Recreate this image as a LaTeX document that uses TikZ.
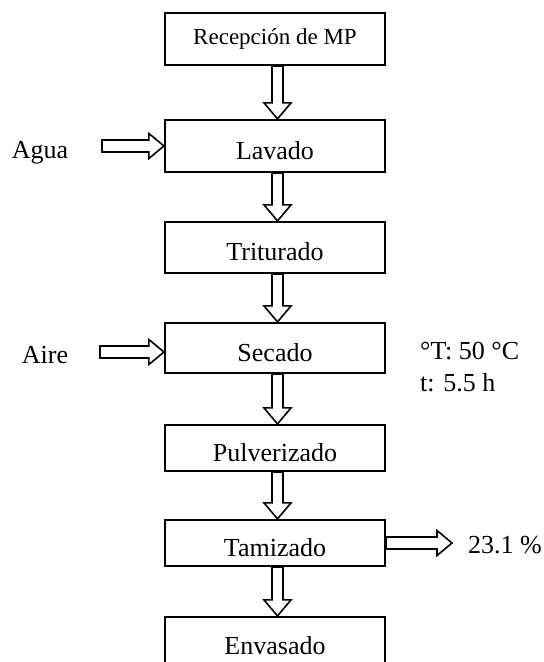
\documentclass[tikz,border=0pt]{standalone}
\usepackage{fontspec}
\setmainfont{Liberation Serif}
\usetikzlibrary{calc}
\tikzset{
  procbox/.style={draw, line width=2.2bp, minimum width=220bp, inner sep=0pt, text height=26bp, text depth=0bp, font=\fontsize{26bp}{30bp}\selectfont},
  lbl/.style={inner sep=0pt, font=\fontsize{26bp}{30bp}\selectfont},
  blk/.style={draw, line width=1.6bp, fill=white, line join=miter}
}
\newcommand\vblock[2]{\draw[blk] let \p1=($(#1.south)+(2.5,0)$), \p2=($(#2.north)+(2.5,0)$) in
  (\x1-5.5bp,\y1) -- (\x1-5.5bp,\y2+16bp) -- (\x1-13.5bp,\y2+16bp) -- (\x1,\y2) --
  (\x1+13.5bp,\y2+16bp) -- (\x1+5.5bp,\y2+16bp) -- (\x1+5.5bp,\y1) -- cycle;}
\newcommand\hblock[2]{\draw[blk] let \p1=(#1), \p2=(#2) in
  (\x1,\y1-6bp) -- (\x2-15bp,\y1-6bp) -- (\x2-15bp,\y1-12.5bp) -- (\x2,\y1) --
  (\x2-15bp,\y1+12.5bp) -- (\x2-15bp,\y1+6bp) -- (\x1,\y1+6bp) -- cycle;}
\begin{document}
\begin{tikzpicture}[x=1bp,y=-1bp]
\useasboundingbox (0,0) rectangle (544,662);
\node[procbox, minimum height=52bp, text height=, text depth=, font=\fontsize{23bp}{27bp}\selectfont] (rec) at (275,39) {Recepción de MP};
\node[procbox, minimum height=52bp] (lav) at (275,146) {Lavado};
\node[procbox, minimum height=51bp] (tri) at (275,247.5) {Triturado};
\node[procbox, minimum height=50bp] (sec) at (275,348) {Secado};
\node[procbox, minimum height=46bp] (pul) at (275,448) {Pulverizado};
\node[procbox, minimum height=46bp] (tam) at (275,543) {Tamizado};
\node[procbox, minimum height=48bp] (env) at (275,641) {Envasado};

\node[lbl] (agua) at (40,153) {Agua};
\node[lbl] (aire) at (45,355) {Aire};
\node[lbl, anchor=west] (temp) at (420,351) {°T: 50 °C};
\node[lbl, anchor=west] (time) at (420,383) {t: 5.5 h};
\node[lbl, anchor=west] (pct) at (468,545) {23.1 \%};

\coordinate (aguastart) at (102,146);
\coordinate (airestart) at (100,352);
\coordinate (pctend) at (452,543);

\vblock{rec}{lav}
\vblock{lav}{tri}
\vblock{tri}{sec}
\vblock{sec}{pul}
\vblock{pul}{tam}
\vblock{tam}{env}
\hblock{aguastart}{lav.west}
\hblock{airestart}{sec.west}
\hblock{tam.east}{pctend}
\end{tikzpicture}
\end{document}
